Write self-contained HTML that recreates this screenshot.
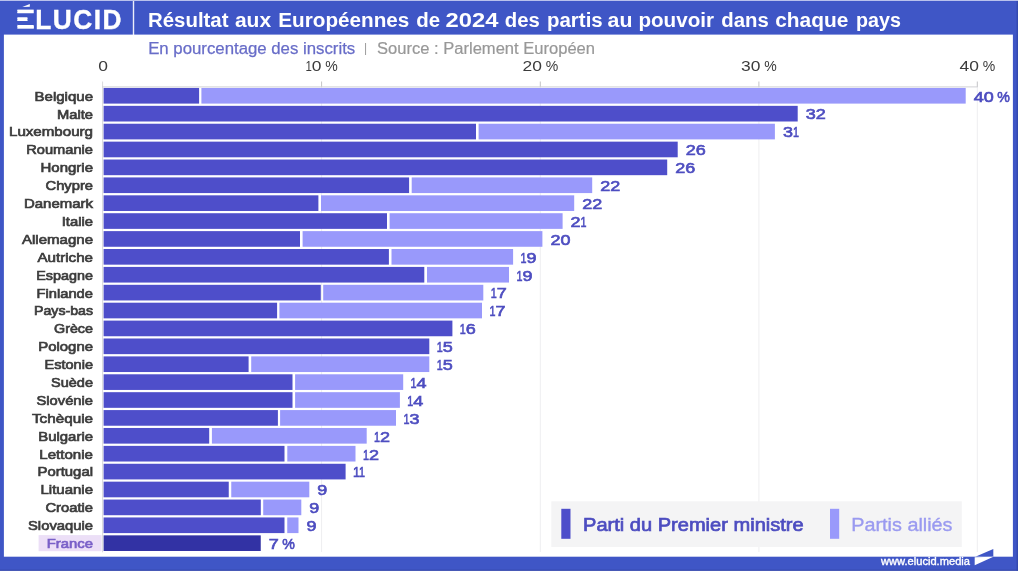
<!DOCTYPE html>
<html lang="fr"><head><meta charset="utf-8"><title>Élucid – Résultat aux Européennes de 2024</title>
<style>html,body{margin:0;padding:0;background:#fff}body{width:1024px;height:576px;overflow:hidden}svg{display:block}text{font-family:"Liberation Sans",sans-serif}</style></head><body>
<svg width="1024" height="576" viewBox="0 0 1024 576">
<rect width="1024" height="576" fill="#fff"/>
<rect x="0" y="0" width="1018" height="570.7" fill="#3f56c6"/>
<rect x="0" y="0" width="1018" height="1" fill="#b9c1ec"/>
<rect x="1016.6" y="1" width="1.4" height="569.7" fill="#3449ae"/>
<rect x="0" y="569.7" width="1018" height="1" fill="#3246a8"/>
<rect x="3.9" y="34.6" width="1009" height="522.1" fill="#fff"/>
<rect x="132.8" y="1" width="1.4" height="34" fill="#fff" opacity=".9"/>
<defs><clipPath id="ec"><rect x="17.4" y="9.5" width="16.3" height="3.8"/><rect x="17.4" y="17.3" width="10" height="3.6"/><rect x="17.4" y="24.7" width="16.3" height="3.9"/></clipPath></defs>
<g clip-path="url(#ec)"><text transform="translate(7.6,28.6) scale(1.52,1)" font-size="27.8" font-weight="700" fill="#fff" stroke="#fff" stroke-width="1.7">É</text></g>
<path d="M22.3 6.9 L29.8 4.1 L29.8 6.7 Z" fill="#fff"/>
<text transform="translate(35.2,28.7) scale(0.94,1)" font-size="28" font-weight="700" fill="#fff" stroke="#fff" stroke-width="0.4" letter-spacing="1.55">LUCID</text>
<text y="26.6" font-size="20" font-weight="700" fill="#fff"><tspan x="148.00" textLength="80.50" lengthAdjust="spacingAndGlyphs">Résultat</tspan> <tspan x="234.90" textLength="36.20" lengthAdjust="spacingAndGlyphs">aux</tspan> <tspan x="278.30" textLength="131.05" lengthAdjust="spacingAndGlyphs">Européennes</tspan> <tspan x="416.30" textLength="23.90" lengthAdjust="spacingAndGlyphs">de</tspan> <tspan x="445.60" textLength="52.80" lengthAdjust="spacingAndGlyphs">2024</tspan> <tspan x="504.80" textLength="35.00" lengthAdjust="spacingAndGlyphs">des</tspan> <tspan x="547.00" textLength="55.70" lengthAdjust="spacingAndGlyphs">partis</tspan> <tspan x="607.60" textLength="24.80" lengthAdjust="spacingAndGlyphs">au</tspan> <tspan x="638.40" textLength="75.60" lengthAdjust="spacingAndGlyphs">pouvoir</tspan> <tspan x="721.30" textLength="47.50" lengthAdjust="spacingAndGlyphs">dans</tspan> <tspan x="775.20" textLength="73.10" lengthAdjust="spacingAndGlyphs">chaque</tspan> <tspan x="856.10" textLength="44.90" lengthAdjust="spacingAndGlyphs">pays</tspan></text>
<text x="148.2" y="54" font-size="16" fill="#686dc8" stroke="#686dc8" stroke-width="0.25" textLength="207" lengthAdjust="spacingAndGlyphs">En pourcentage des inscrits</text>
<text x="364" y="51.6" font-size="12" fill="#9a9a9a">|</text>
<text x="377" y="54" font-size="16" fill="#989898" stroke="#989898" stroke-width="0.2" textLength="218" lengthAdjust="spacingAndGlyphs">Source : Parlement Européen</text>
<text x="98.15" y="71.4" font-size="15.5" fill="#3c3c3c"><tspan textLength="9.7" lengthAdjust="spacingAndGlyphs">0</tspan></text>
<text x="305.40" y="71.4" font-size="15.5" fill="#3c3c3c"><tspan textLength="6.4" lengthAdjust="spacingAndGlyphs">1</tspan><tspan textLength="9.7" lengthAdjust="spacingAndGlyphs">0</tspan><tspan textLength="3.8" lengthAdjust="spacingAndGlyphs">&#160;</tspan><tspan textLength="12.5" lengthAdjust="spacingAndGlyphs">%</tspan></text>
<text x="522.45" y="71.4" font-size="15.5" fill="#3c3c3c"><tspan textLength="9.7" lengthAdjust="spacingAndGlyphs">2</tspan><tspan textLength="9.7" lengthAdjust="spacingAndGlyphs">0</tspan><tspan textLength="3.8" lengthAdjust="spacingAndGlyphs">&#160;</tspan><tspan textLength="12.5" lengthAdjust="spacingAndGlyphs">%</tspan></text>
<text x="741.05" y="71.4" font-size="15.5" fill="#3c3c3c"><tspan textLength="9.7" lengthAdjust="spacingAndGlyphs">3</tspan><tspan textLength="9.7" lengthAdjust="spacingAndGlyphs">0</tspan><tspan textLength="3.8" lengthAdjust="spacingAndGlyphs">&#160;</tspan><tspan textLength="12.5" lengthAdjust="spacingAndGlyphs">%</tspan></text>
<text x="959.45" y="71.4" font-size="15.5" fill="#3c3c3c"><tspan textLength="9.7" lengthAdjust="spacingAndGlyphs">4</tspan><tspan textLength="9.7" lengthAdjust="spacingAndGlyphs">0</tspan><tspan textLength="3.8" lengthAdjust="spacingAndGlyphs">&#160;</tspan><tspan textLength="12.5" lengthAdjust="spacingAndGlyphs">%</tspan></text>
<g stroke="#eeeef0" stroke-width="1">
<line x1="102.6" y1="81.5" x2="102.6" y2="552.3" stroke="#d9d9db"/>
<line x1="321.6" y1="87" x2="321.6" y2="552"/>
<line x1="321.6" y1="81.5" x2="321.6" y2="87" stroke="#c4c4c6"/>
<line x1="540.3" y1="87" x2="540.3" y2="552"/>
<line x1="540.3" y1="81.5" x2="540.3" y2="87" stroke="#c4c4c6"/>
<line x1="758.9" y1="87" x2="758.9" y2="552"/>
<line x1="758.9" y1="81.5" x2="758.9" y2="87" stroke="#c4c4c6"/>
<line x1="977.3" y1="87" x2="977.3" y2="552"/>
<line x1="977.3" y1="81.5" x2="977.3" y2="87" stroke="#c4c4c6"/>
<line x1="102.1" y1="86.9" x2="977.8" y2="86.9" stroke="#d2d2d5"/>
</g>
<rect x="38.6" y="535.1" width="63" height="16.1" fill="#ecdff7"/>
<rect x="103.6" y="87.95" width="95.50" height="15.65" fill="#4e4eca"/>
<rect x="201.4" y="87.95" width="764.30" height="15.65" fill="#9999fb"/>
<text x="93" y="100.68" font-size="13.5" fill="#3c3c3c" stroke="#3c3c3c" stroke-width="0.7" text-anchor="end" textLength="58.5" lengthAdjust="spacingAndGlyphs">Belgique</text>
<text x="973.70" y="101.58" font-size="15" fill="#4d4dc0" stroke="#4d4dc0" stroke-width="0.65"><tspan textLength="10.0" lengthAdjust="spacingAndGlyphs">4</tspan><tspan textLength="10.0" lengthAdjust="spacingAndGlyphs">0</tspan><tspan textLength="3.6" lengthAdjust="spacingAndGlyphs">&#160;</tspan><tspan textLength="12.6" lengthAdjust="spacingAndGlyphs">%</tspan></text>
<rect x="103.6" y="105.85" width="694.10" height="15.65" fill="#4e4eca"/>
<text x="93" y="118.57" font-size="13.5" fill="#3c3c3c" stroke="#3c3c3c" stroke-width="0.7" text-anchor="end" textLength="36" lengthAdjust="spacingAndGlyphs">Malte</text>
<text x="805.70" y="119.47" font-size="15" fill="#4d4dc0" stroke="#4d4dc0" stroke-width="0.65"><tspan textLength="10.0" lengthAdjust="spacingAndGlyphs">3</tspan><tspan textLength="10.0" lengthAdjust="spacingAndGlyphs">2</tspan></text>
<rect x="103.6" y="123.74" width="372.40" height="15.65" fill="#4e4eca"/>
<rect x="478.6" y="123.74" width="296.30" height="15.65" fill="#9999fb"/>
<text x="93" y="136.47" font-size="13.5" fill="#3c3c3c" stroke="#3c3c3c" stroke-width="0.7" text-anchor="end" textLength="84" lengthAdjust="spacingAndGlyphs">Luxembourg</text>
<text x="782.90" y="137.37" font-size="15" fill="#4d4dc0" stroke="#4d4dc0" stroke-width="0.65"><tspan textLength="10.0" lengthAdjust="spacingAndGlyphs">3</tspan><tspan textLength="6.0" lengthAdjust="spacingAndGlyphs">1</tspan></text>
<rect x="103.6" y="141.64" width="574.10" height="15.65" fill="#4e4eca"/>
<text x="93" y="154.36" font-size="13.5" fill="#3c3c3c" stroke="#3c3c3c" stroke-width="0.7" text-anchor="end" textLength="66.75" lengthAdjust="spacingAndGlyphs">Roumanie</text>
<text x="685.70" y="155.26" font-size="15" fill="#4d4dc0" stroke="#4d4dc0" stroke-width="0.65"><tspan textLength="10.0" lengthAdjust="spacingAndGlyphs">2</tspan><tspan textLength="10.0" lengthAdjust="spacingAndGlyphs">6</tspan></text>
<rect x="103.6" y="159.53" width="563.60" height="15.65" fill="#4e4eca"/>
<text x="93" y="172.26" font-size="13.5" fill="#3c3c3c" stroke="#3c3c3c" stroke-width="0.7" text-anchor="end" textLength="52.5" lengthAdjust="spacingAndGlyphs">Hongrie</text>
<text x="675.20" y="173.16" font-size="15" fill="#4d4dc0" stroke="#4d4dc0" stroke-width="0.65"><tspan textLength="10.0" lengthAdjust="spacingAndGlyphs">2</tspan><tspan textLength="10.0" lengthAdjust="spacingAndGlyphs">6</tspan></text>
<rect x="103.6" y="177.43" width="305.50" height="15.65" fill="#4e4eca"/>
<rect x="411.7" y="177.43" width="180.50" height="15.65" fill="#9999fb"/>
<text x="93" y="190.16" font-size="13.5" fill="#3c3c3c" stroke="#3c3c3c" stroke-width="0.7" text-anchor="end" textLength="47.5" lengthAdjust="spacingAndGlyphs">Chypre</text>
<text x="600.20" y="191.06" font-size="15" fill="#4d4dc0" stroke="#4d4dc0" stroke-width="0.65"><tspan textLength="10.0" lengthAdjust="spacingAndGlyphs">2</tspan><tspan textLength="10.0" lengthAdjust="spacingAndGlyphs">2</tspan></text>
<rect x="103.6" y="195.33" width="214.80" height="15.65" fill="#4e4eca"/>
<rect x="321" y="195.33" width="253.20" height="15.65" fill="#9999fb"/>
<text x="93" y="208.05" font-size="13.5" fill="#3c3c3c" stroke="#3c3c3c" stroke-width="0.7" text-anchor="end" textLength="69" lengthAdjust="spacingAndGlyphs">Danemark</text>
<text x="582.20" y="208.95" font-size="15" fill="#4d4dc0" stroke="#4d4dc0" stroke-width="0.65"><tspan textLength="10.0" lengthAdjust="spacingAndGlyphs">2</tspan><tspan textLength="10.0" lengthAdjust="spacingAndGlyphs">2</tspan></text>
<rect x="103.6" y="213.22" width="283.40" height="15.65" fill="#4e4eca"/>
<rect x="389.6" y="213.22" width="173.00" height="15.65" fill="#9999fb"/>
<text x="93" y="225.95" font-size="13.5" fill="#3c3c3c" stroke="#3c3c3c" stroke-width="0.7" text-anchor="end" textLength="31.25" lengthAdjust="spacingAndGlyphs">Italie</text>
<text x="570.60" y="226.85" font-size="15" fill="#4d4dc0" stroke="#4d4dc0" stroke-width="0.65"><tspan textLength="10.0" lengthAdjust="spacingAndGlyphs">2</tspan><tspan textLength="6.0" lengthAdjust="spacingAndGlyphs">1</tspan></text>
<rect x="103.6" y="231.12" width="196.40" height="15.65" fill="#4e4eca"/>
<rect x="302.6" y="231.12" width="239.80" height="15.65" fill="#9999fb"/>
<text x="93" y="243.84" font-size="13.5" fill="#3c3c3c" stroke="#3c3c3c" stroke-width="0.7" text-anchor="end" textLength="71" lengthAdjust="spacingAndGlyphs">Allemagne</text>
<text x="550.40" y="244.74" font-size="15" fill="#4d4dc0" stroke="#4d4dc0" stroke-width="0.65"><tspan textLength="10.0" lengthAdjust="spacingAndGlyphs">2</tspan><tspan textLength="10.0" lengthAdjust="spacingAndGlyphs">0</tspan></text>
<rect x="103.6" y="249.01" width="285.30" height="15.65" fill="#4e4eca"/>
<rect x="391.5" y="249.01" width="121.60" height="15.65" fill="#9999fb"/>
<text x="93" y="261.74" font-size="13.5" fill="#3c3c3c" stroke="#3c3c3c" stroke-width="0.7" text-anchor="end" textLength="55.5" lengthAdjust="spacingAndGlyphs">Autriche</text>
<text x="520.50" y="262.64" font-size="15" fill="#4d4dc0" stroke="#4d4dc0" stroke-width="0.65"><tspan textLength="6.0" lengthAdjust="spacingAndGlyphs">1</tspan><tspan textLength="10.0" lengthAdjust="spacingAndGlyphs">9</tspan></text>
<rect x="103.6" y="266.91" width="320.70" height="15.65" fill="#4e4eca"/>
<rect x="427" y="266.91" width="82.00" height="15.65" fill="#9999fb"/>
<text x="93" y="279.63" font-size="13.5" fill="#3c3c3c" stroke="#3c3c3c" stroke-width="0.7" text-anchor="end" textLength="56.75" lengthAdjust="spacingAndGlyphs">Espagne</text>
<text x="516.40" y="280.54" font-size="15" fill="#4d4dc0" stroke="#4d4dc0" stroke-width="0.65"><tspan textLength="6.0" lengthAdjust="spacingAndGlyphs">1</tspan><tspan textLength="10.0" lengthAdjust="spacingAndGlyphs">9</tspan></text>
<rect x="103.6" y="284.81" width="217.20" height="15.65" fill="#4e4eca"/>
<rect x="323.2" y="284.81" width="160.10" height="15.65" fill="#9999fb"/>
<text x="93" y="297.53" font-size="13.5" fill="#3c3c3c" stroke="#3c3c3c" stroke-width="0.7" text-anchor="end" textLength="56.5" lengthAdjust="spacingAndGlyphs">Finlande</text>
<text x="490.70" y="298.43" font-size="15" fill="#4d4dc0" stroke="#4d4dc0" stroke-width="0.65"><tspan textLength="6.0" lengthAdjust="spacingAndGlyphs">1</tspan><tspan textLength="10.0" lengthAdjust="spacingAndGlyphs">7</tspan></text>
<rect x="103.6" y="302.70" width="173.50" height="15.65" fill="#4e4eca"/>
<rect x="279.4" y="302.70" width="202.60" height="15.65" fill="#9999fb"/>
<text x="93" y="315.43" font-size="13.5" fill="#3c3c3c" stroke="#3c3c3c" stroke-width="0.7" text-anchor="end" textLength="59" lengthAdjust="spacingAndGlyphs">Pays-bas</text>
<text x="489.40" y="316.33" font-size="15" fill="#4d4dc0" stroke="#4d4dc0" stroke-width="0.65"><tspan textLength="6.0" lengthAdjust="spacingAndGlyphs">1</tspan><tspan textLength="10.0" lengthAdjust="spacingAndGlyphs">7</tspan></text>
<rect x="103.6" y="320.60" width="348.80" height="15.65" fill="#4e4eca"/>
<text x="93" y="333.32" font-size="13.5" fill="#3c3c3c" stroke="#3c3c3c" stroke-width="0.7" text-anchor="end" textLength="39" lengthAdjust="spacingAndGlyphs">Grèce</text>
<text x="459.80" y="334.22" font-size="15" fill="#4d4dc0" stroke="#4d4dc0" stroke-width="0.65"><tspan textLength="6.0" lengthAdjust="spacingAndGlyphs">1</tspan><tspan textLength="10.0" lengthAdjust="spacingAndGlyphs">6</tspan></text>
<rect x="103.6" y="338.49" width="325.70" height="15.65" fill="#4e4eca"/>
<text x="93" y="351.22" font-size="13.5" fill="#3c3c3c" stroke="#3c3c3c" stroke-width="0.7" text-anchor="end" textLength="54.75" lengthAdjust="spacingAndGlyphs">Pologne</text>
<text x="436.70" y="352.12" font-size="15" fill="#4d4dc0" stroke="#4d4dc0" stroke-width="0.65"><tspan textLength="6.0" lengthAdjust="spacingAndGlyphs">1</tspan><tspan textLength="10.0" lengthAdjust="spacingAndGlyphs">5</tspan></text>
<rect x="103.6" y="356.39" width="145.00" height="15.65" fill="#4e4eca"/>
<rect x="251.2" y="356.39" width="178.10" height="15.65" fill="#9999fb"/>
<text x="93" y="369.11" font-size="13.5" fill="#3c3c3c" stroke="#3c3c3c" stroke-width="0.7" text-anchor="end" textLength="48.5" lengthAdjust="spacingAndGlyphs">Estonie</text>
<text x="436.70" y="370.01" font-size="15" fill="#4d4dc0" stroke="#4d4dc0" stroke-width="0.65"><tspan textLength="6.0" lengthAdjust="spacingAndGlyphs">1</tspan><tspan textLength="10.0" lengthAdjust="spacingAndGlyphs">5</tspan></text>
<rect x="103.6" y="374.29" width="188.90" height="15.65" fill="#4e4eca"/>
<rect x="295.1" y="374.29" width="108.10" height="15.65" fill="#9999fb"/>
<text x="93" y="387.01" font-size="13.5" fill="#3c3c3c" stroke="#3c3c3c" stroke-width="0.7" text-anchor="end" textLength="42" lengthAdjust="spacingAndGlyphs">Suède</text>
<text x="410.60" y="387.91" font-size="15" fill="#4d4dc0" stroke="#4d4dc0" stroke-width="0.65"><tspan textLength="6.0" lengthAdjust="spacingAndGlyphs">1</tspan><tspan textLength="10.0" lengthAdjust="spacingAndGlyphs">4</tspan></text>
<rect x="103.6" y="392.18" width="188.90" height="15.65" fill="#4e4eca"/>
<rect x="295.1" y="392.18" width="104.80" height="15.65" fill="#9999fb"/>
<text x="93" y="404.91" font-size="13.5" fill="#3c3c3c" stroke="#3c3c3c" stroke-width="0.7" text-anchor="end" textLength="56.5" lengthAdjust="spacingAndGlyphs">Slovénie</text>
<text x="407.30" y="405.81" font-size="15" fill="#4d4dc0" stroke="#4d4dc0" stroke-width="0.65"><tspan textLength="6.0" lengthAdjust="spacingAndGlyphs">1</tspan><tspan textLength="10.0" lengthAdjust="spacingAndGlyphs">4</tspan></text>
<rect x="103.6" y="410.08" width="174.30" height="15.65" fill="#4e4eca"/>
<rect x="280.1" y="410.08" width="115.90" height="15.65" fill="#9999fb"/>
<text x="93" y="422.80" font-size="13.5" fill="#3c3c3c" stroke="#3c3c3c" stroke-width="0.7" text-anchor="end" textLength="61" lengthAdjust="spacingAndGlyphs">Tchèquie</text>
<text x="403.40" y="423.70" font-size="15" fill="#4d4dc0" stroke="#4d4dc0" stroke-width="0.65"><tspan textLength="6.0" lengthAdjust="spacingAndGlyphs">1</tspan><tspan textLength="10.0" lengthAdjust="spacingAndGlyphs">3</tspan></text>
<rect x="103.6" y="427.97" width="105.60" height="15.65" fill="#4e4eca"/>
<rect x="211.9" y="427.97" width="154.80" height="15.65" fill="#9999fb"/>
<text x="93" y="440.70" font-size="13.5" fill="#3c3c3c" stroke="#3c3c3c" stroke-width="0.7" text-anchor="end" textLength="54.75" lengthAdjust="spacingAndGlyphs">Bulgarie</text>
<text x="374.10" y="441.60" font-size="15" fill="#4d4dc0" stroke="#4d4dc0" stroke-width="0.65"><tspan textLength="6.0" lengthAdjust="spacingAndGlyphs">1</tspan><tspan textLength="10.0" lengthAdjust="spacingAndGlyphs">2</tspan></text>
<rect x="103.6" y="445.87" width="180.90" height="15.65" fill="#4e4eca"/>
<rect x="287.3" y="445.87" width="68.20" height="15.65" fill="#9999fb"/>
<text x="93" y="458.59" font-size="13.5" fill="#3c3c3c" stroke="#3c3c3c" stroke-width="0.7" text-anchor="end" textLength="53.75" lengthAdjust="spacingAndGlyphs">Lettonie</text>
<text x="362.90" y="459.50" font-size="15" fill="#4d4dc0" stroke="#4d4dc0" stroke-width="0.65"><tspan textLength="6.0" lengthAdjust="spacingAndGlyphs">1</tspan><tspan textLength="10.0" lengthAdjust="spacingAndGlyphs">2</tspan></text>
<rect x="103.6" y="463.77" width="242.00" height="15.65" fill="#4e4eca"/>
<text x="93" y="476.49" font-size="13.5" fill="#3c3c3c" stroke="#3c3c3c" stroke-width="0.7" text-anchor="end" textLength="55.5" lengthAdjust="spacingAndGlyphs">Portugal</text>
<text x="353.00" y="477.39" font-size="15" fill="#4d4dc0" stroke="#4d4dc0" stroke-width="0.65"><tspan textLength="6.0" lengthAdjust="spacingAndGlyphs">1</tspan><tspan textLength="6.0" lengthAdjust="spacingAndGlyphs">1</tspan></text>
<rect x="103.6" y="481.66" width="125.15" height="15.65" fill="#4e4eca"/>
<rect x="231.25" y="481.66" width="78.05" height="15.65" fill="#9999fb"/>
<text x="93" y="494.39" font-size="13.5" fill="#3c3c3c" stroke="#3c3c3c" stroke-width="0.7" text-anchor="end" textLength="52.5" lengthAdjust="spacingAndGlyphs">Lituanie</text>
<text x="317.30" y="495.29" font-size="15" fill="#4d4dc0" stroke="#4d4dc0" stroke-width="0.65"><tspan textLength="10.0" lengthAdjust="spacingAndGlyphs">9</tspan></text>
<rect x="103.6" y="499.56" width="157.20" height="15.65" fill="#4e4eca"/>
<rect x="263.2" y="499.56" width="38.10" height="15.65" fill="#9999fb"/>
<text x="93" y="512.28" font-size="13.5" fill="#3c3c3c" stroke="#3c3c3c" stroke-width="0.7" text-anchor="end" textLength="47.6" lengthAdjust="spacingAndGlyphs">Croatie</text>
<text x="309.30" y="513.18" font-size="15" fill="#4d4dc0" stroke="#4d4dc0" stroke-width="0.65"><tspan textLength="10.0" lengthAdjust="spacingAndGlyphs">9</tspan></text>
<rect x="103.6" y="517.45" width="180.90" height="15.65" fill="#4e4eca"/>
<rect x="287.25" y="517.45" width="11.25" height="15.65" fill="#9999fb"/>
<text x="93" y="530.18" font-size="13.5" fill="#3c3c3c" stroke="#3c3c3c" stroke-width="0.7" text-anchor="end" textLength="65" lengthAdjust="spacingAndGlyphs">Slovaquie</text>
<text x="306.50" y="531.08" font-size="15" fill="#4d4dc0" stroke="#4d4dc0" stroke-width="0.65"><tspan textLength="10.0" lengthAdjust="spacingAndGlyphs">9</tspan></text>
<rect x="103.6" y="535.35" width="157.15" height="15.65" fill="#3232a4"/>
<text x="93" y="548.08" font-size="13.5" fill="#7a60c8" stroke="#7a60c8" stroke-width="0.7" text-anchor="end" textLength="46.2" lengthAdjust="spacingAndGlyphs">France</text>
<text x="268.75" y="548.98" font-size="15" fill="#4d4dc0" stroke="#4d4dc0" stroke-width="0.65"><tspan textLength="10.0" lengthAdjust="spacingAndGlyphs">7</tspan><tspan textLength="3.6" lengthAdjust="spacingAndGlyphs">&#160;</tspan><tspan textLength="12.6" lengthAdjust="spacingAndGlyphs">%</tspan></text>
<rect x="551.3" y="501.3" width="410.5" height="45.7" fill="#f4f4f5"/>
<rect x="561.3" y="508.8" width="9.2" height="30" fill="#4e4eca"/>
<text x="583" y="530.8" font-size="18.5" fill="#4d4dc0" stroke="#4d4dc0" stroke-width="0.7" textLength="220.7" lengthAdjust="spacingAndGlyphs">Parti du Premier ministre</text>
<rect x="830" y="508.8" width="9.2" height="30" fill="#9999fb"/>
<text x="851.3" y="530.8" font-size="18.5" fill="#9a9af0" stroke="#9a9af0" stroke-width="0.35" textLength="101.2" lengthAdjust="spacingAndGlyphs">Partis alliés</text>
<text x="881" y="565.1" font-size="10.5" fill="#fff" stroke="#fff" stroke-width="0.35" textLength="89" lengthAdjust="spacingAndGlyphs">www.elucid.media</text>
<path d="M975.9 556.5 L993.3 548.9 L993.3 556.7 Z" fill="#3f56c6"/>
<path d="M974.7 557.3 L993.4 556.8 L974.7 565.2 Z" fill="#fff"/>
</svg></body></html>
